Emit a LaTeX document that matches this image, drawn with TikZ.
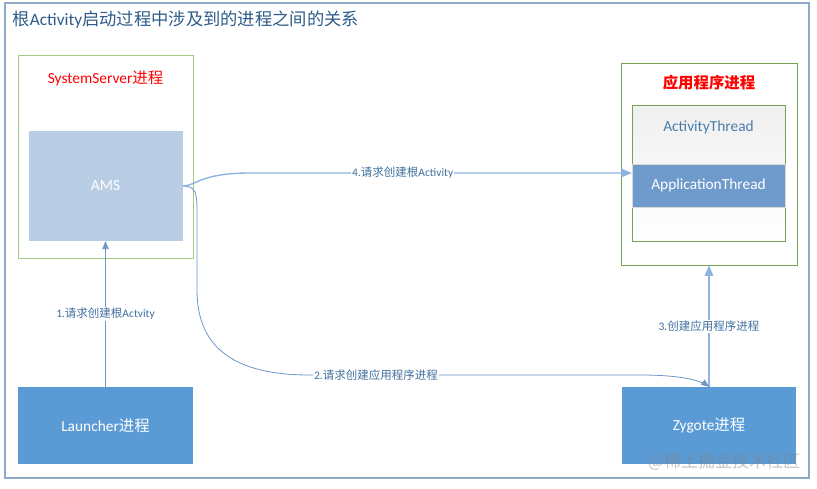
\documentclass[tikz,border=0pt]{standalone}
\usepackage{fontspec}
\setmainfont{Carlito}
\newfontfamily\cjk{Noto Sans CJK SC}
\usepackage{tikz}
\usetikzlibrary{arrows}

\definecolor{framegray}{HTML}{8FA9C6}
\definecolor{titleblue}{HTML}{2E5C8A}
\definecolor{procgreen}{HTML}{A3CB84}
\definecolor{appgreen}{HTML}{77A252}
\definecolor{amsblue}{HTML}{B9CDE5}
\definecolor{boxblue}{HTML}{5B9BD5}
\definecolor{threadblue}{HTML}{6E9BCB}
\definecolor{linkblue}{HTML}{6E98C6}
\definecolor{lightlink}{HTML}{8DB4E0}
\definecolor{labelblue}{HTML}{41709F}

\begin{document}
\begin{tikzpicture}[>=triangle 45,x=1pt,y=-1pt,
  proc/.style={rectangle,draw,line width=0.9pt,inner sep=0pt},
  box/.style={rectangle,fill=boxblue,text=white,inner sep=0pt,font=\fontsize{15.4}{18}\selectfont},
  caption/.style={font=\fontsize{15.4}{18}\selectfont},
  lbl/.style={fill=white,inner sep=1pt,text=labelblue,font=\fontsize{11.5}{13}\selectfont},
  thinlink/.style={draw=linkblue,line width=0.8pt},
  widelink/.style={draw=lightlink,line width=1.4pt}]

	\useasboundingbox (0,0) rectangle (817,488);
	\fill[white] (0,0) rectangle (817,488);

	% The frames
	\node [proc,draw=framegray,line width=1.2pt,minimum width=804pt,minimum height=475pt] at (407,240.5) (frame) {};
	\node [anchor=west,text=titleblue,font=\fontsize{17.3}{20}\selectfont] at (9,20) (title)
		{{\cjk 根}Activity{\cjk 启动过程中涉及到的进程之间的关系}};

	\node [proc,draw=procgreen,minimum width=175pt,minimum height=203pt] at (105.5,156.5) (sysproc) {};
	\node [caption,text=red] at (105.5,78) (syslabel) {SystemServer{\cjk 进程}};
	\node [box,fill=amsblue,minimum width=154pt,minimum height=110pt] at (105.5,186) (ams) {AMS};

	\node [proc,draw=appgreen,minimum width=176pt,minimum height=202pt] at (709,164) (appproc) {};
	\node [caption,text=red,font=\fontsize{15.4}{18}\selectfont\cjk\bfseries] at (709,83) (applabel) {应用程序进程};
	\node [proc,draw=appgreen,top color=gray!12,bottom color=white,minimum width=153pt,minimum height=136pt] at (708.5,173) (athread) {};
	\node [caption,text=boxblue!80!black] at (708.5,127) (athreadlabel) {ActivityThread};
	\node [box,fill=threadblue,draw=gray!30,minimum width=153pt,minimum height=43pt] at (708.5,185.5) (appthread) {ApplicationThread};

	\node [box,minimum width=175pt,minimum height=77pt] at (105.5,425.5) (launcher) {Launcher{\cjk 进程}};
	\node [box,minimum width=174pt,minimum height=77pt] at (709,425.5) (zygote) {Zygote{\cjk 进程}};

	% Graph edges
	\path[->]
	(launcher) edge[thinlink] node[lbl] {1.{\cjk 请求创建根}Actvity} (ams)
	(zygote) edge[widelink] node[lbl] {3.{\cjk 创建应用程序进程}} (appproc)
	;

	\draw[->,thinlink] (ams.east) .. controls (195,186) and (197,192) .. (197,210)
		-- (197,290) .. controls (197,352) and (240,375) .. (310,375)
		-- node[lbl,pos=0.2] {2.{\cjk 请求创建应用程序进程}} (640,375)
		.. controls (680,375) and (700,380) .. (zygote.north);

	\draw[->,widelink] (ams.east) .. controls (196,186) and (200,173) .. (250,173)
		-- node[lbl,pos=0.4] {4.{\cjk 请求创建根}Activity} ([yshift=12.5pt]appthread.west);

	% Watermark
	\node [text=gray,opacity=0.45,font=\fontsize{17}{19}\selectfont\cjk] at (724,462) (mark) {@稀土掘金技术社区};

\end{tikzpicture}
\end{document}
